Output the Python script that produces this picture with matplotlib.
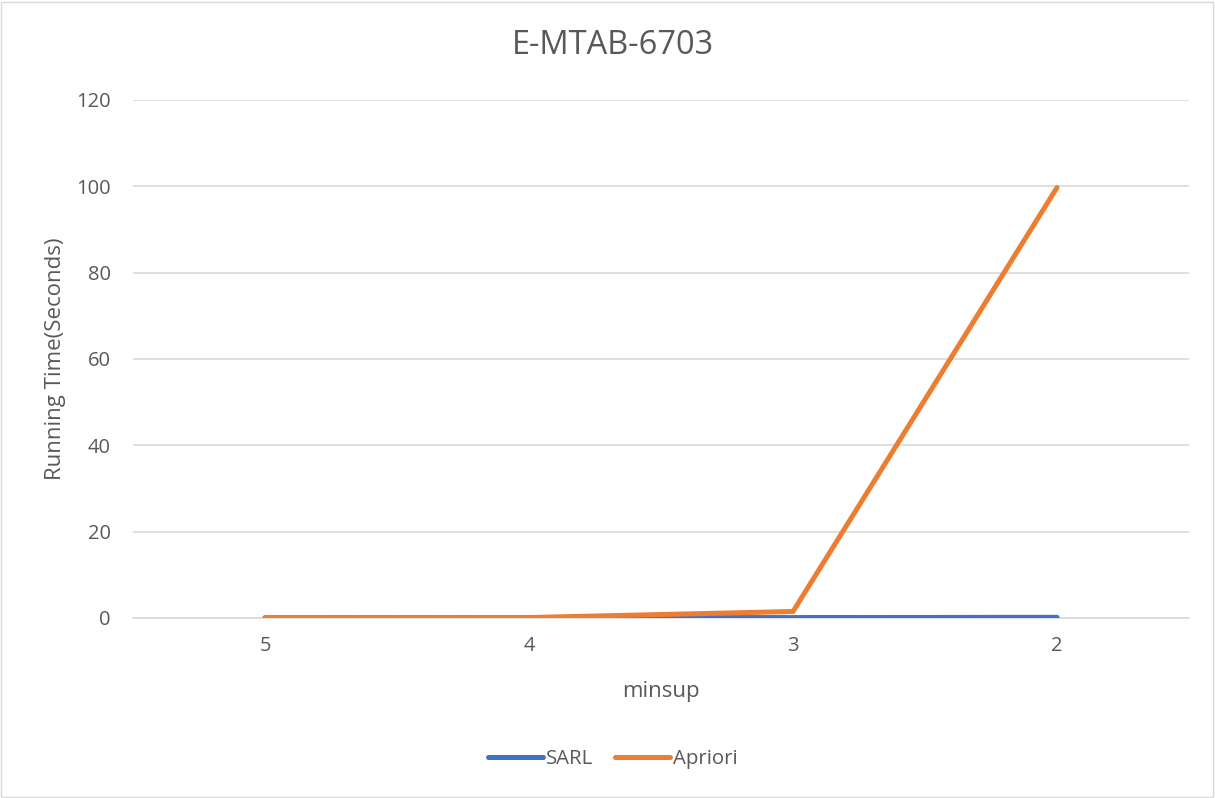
import matplotlib
matplotlib.use("Agg")
import matplotlib.pyplot as plt
from matplotlib.patches import Rectangle

categories = ["5", "4", "3", "2"]
sarl = [0.05, 0.08, 0.1, 0.15]
apriori = [0.05, 0.1, 1.5, 99.7]
y_ticks = [0, 20, 40, 60, 80, 100, 120]

plt.rcParams["font.family"] = ["Open Sans", "DejaVu Sans"]
text_color = "#595959"

fig = plt.figure(figsize=(12.15, 7.98), dpi=100)
fig.patches.append(Rectangle((0.001, 0.001), 0.997, 0.997, transform=fig.transFigure,
                             fill=False, edgecolor="#d9d9d9", linewidth=1.0))
ax = fig.add_axes([0.1095, 0.2256, 0.8691, 0.6491])

x = list(range(len(categories)))
ax.plot(x, sarl, color="#4472C4", linewidth=3.6, solid_capstyle="round",
        solid_joinstyle="round", label="SARL", zorder=3)
ax.plot(x, apriori, color="#ED7D31", linewidth=3.6, solid_capstyle="round",
        solid_joinstyle="round", label="Apriori", zorder=4)

ax.set_xlim(-0.5, len(categories) - 0.5)
ax.set_ylim(0, 120)
ax.set_yticks(y_ticks)
ax.set_xticks(x)
ax.set_xticklabels(categories)
ax.grid(axis="y", color="#d9d9d9", linewidth=1.2)
ax.set_axisbelow(True)
for side in ["top", "right", "left"]:
    ax.spines[side].set_visible(False)
ax.spines["bottom"].set_color("#d9d9d9")
ax.spines["bottom"].set_linewidth(1.2)
ax.tick_params(axis="both", length=0, colors=text_color, labelsize=14.5)
ax.tick_params(axis="x", pad=13)
ax.tick_params(axis="y", pad=16)

ax.set_xlabel("minsup", fontsize=16, color=text_color)
ax.xaxis.set_label_coords(0.5, (618 - 692) / 518.0)
ax.xaxis.label.set_va("center")
ax.set_ylabel("Running Time(Seconds)", fontsize=16, color=text_color, labelpad=7)
fig.text(0.5045, 0.9424, "E-MTAB-6703", ha="center", va="center", fontsize=23.5, color=text_color)

leg = fig.legend(loc="center", bbox_to_anchor=(0.5045, 0.049), ncol=2, frameon=False,
                 fontsize=14.7, handlelength=2.7, columnspacing=1.08, handletextpad=0.15)
for t in leg.get_texts():
    t.set_color(text_color)
for h in leg.get_lines():
    h.set_linewidth(3.6)
    h.set_solid_capstyle("round")

fig.savefig("out.png", dpi=100, facecolor="white")
